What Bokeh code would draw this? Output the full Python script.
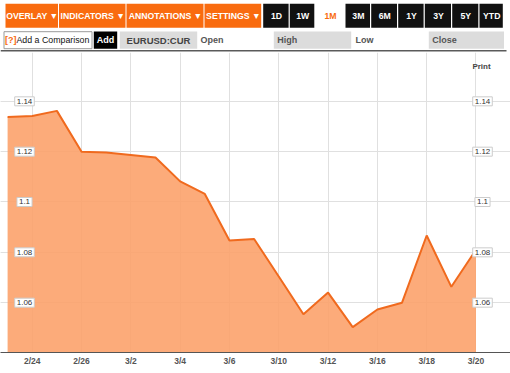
from bokeh.plotting import figure
from bokeh.models import Range1d, FixedTicker, Grid, Label
from bokeh.layouts import column
from bokeh.core.properties import value
from bokeh.embed import file_html
from bokeh.resources import INLINE

# ---------------- data ----------------
dates = ["2/23", "2/24", "2/25", "2/26", "2/27", "3/2", "3/3", "3/4", "3/5", "3/6",
         "3/9", "3/10", "3/11", "3/12", "3/13", "3/16", "3/17", "3/18", "3/19", "3/20"]
close = [1.1338, 1.1342, 1.1362, 1.1200, 1.1197, 1.1187, 1.1177, 1.1082, 1.1032, 1.0847,
         1.0853, 1.0704, 1.0554, 1.0640, 1.0503, 1.0573, 1.0600, 1.0867, 1.0663, 1.0810]
x_tick_labels = ["2/24", "2/26", "3/2", "3/4", "3/6", "3/10", "3/12", "3/16", "3/18", "3/20"]
y_ticks = [1.06, 1.08, 1.10, 1.12, 1.14]
y_tick_labels = ["1.06", "1.08", "1.1", "1.12", "1.14"]
symbol = "EURUSD:CUR"

# header (toolbar) content
menu_labels = ["OVERLAY ▼", "INDICATORS ▼", "ANNOTATIONS ▼", "SETTINGS ▼"]
period_labels = ["1D", "1W", "1M", "3M", "6M", "1Y", "3Y", "5Y", "YTD"]
active_period = "1M"
field_labels = ["Open", "High", "Low", "Close"]

FONT = value("Liberation Sans")
ORANGE = "#F96B0F"
W = 510

# ---------------- header figure ----------------
head = figure(width=W, height=52, x_range=Range1d(0, W), y_range=Range1d(52, 0),
              min_border=0, toolbar_location=None, output_backend="svg",
              x_axis_location=None, y_axis_location=None, outline_line_color=None)
head.xgrid.visible = False
head.ygrid.visible = False

menu_edges = [5, 58.5, 126, 204, 261.7]
period_edges = [262.7, 289.3, 315, 345, 370.7, 397.7, 424.3, 451.7, 479, 503.5]

l, r, c = [], [], []
for i in range(len(menu_labels)):
    l.append(menu_edges[i]); r.append(menu_edges[i + 1] - 1); c.append(ORANGE)
for i, lab in enumerate(period_labels):
    l.append(period_edges[i]); r.append(period_edges[i + 1] - 1.2)
    c.append("white" if lab == active_period else "#111111")
head.quad(left=l, right=r, top=3.3, bottom=27.3, fill_color=c, line_color=None)

tx, tc, tt = [], [], []
for i, lab in enumerate(menu_labels):
    tx.append((menu_edges[i] + menu_edges[i + 1]) / 2); tt.append(lab); tc.append("white")
for i, lab in enumerate(period_labels):
    tx.append((period_edges[i] + period_edges[i + 1]) / 2); tt.append(lab)
    tc.append(ORANGE if lab == active_period else "white")
head.text(x=tx, y=[15.8] * len(tx), text=tt, text_color=tc, text_font=FONT,
          text_font_style="bold", text_font_size="8.7px", text_align="center",
          text_baseline="middle")

# row 2
head.quad(left=[3.5], right=[91.5], top=31.2, bottom=48.2, fill_color="white",
          line_color="#9a9a9a", line_width=1)
head.quad(left=[93.3], right=[116.7], top=31, bottom=48.3, fill_color="black", line_color=None)
head.quad(left=[119.3, 273.3, 428.3], right=[196.7, 350.7, 503.5], top=31, bottom=48.3,
          fill_color="#dcdcdc", line_color=None)
head.text(x=[4.5], y=[39.5], text=["[?]"], text_color=ORANGE, text_font=FONT,
          text_font_size="9px", text_baseline="middle", text_font_style="bold")
head.text(x=[16], y=[39.5], text=["Add a Comparison"], text_color="#111111", text_font=FONT,
          text_font_size="8.8px", text_baseline="middle")
head.text(x=[105], y=[39.5], text=["Add"], text_color="white", text_font=FONT,
          text_font_size="9px", text_font_style="bold", text_baseline="middle",
          text_align="center")
head.text(x=[158], y=[39.5], text=[symbol], text_color="#444444", text_font=FONT,
          text_font_size="9.5px", text_font_style="bold", text_baseline="middle",
          text_align="center")
head.text(x=[200, 276.7, 355, 431.7], y=[39.5] * 4, text=field_labels, text_color="#555555",
          text_font=FONT, text_font_size="9px", text_font_style="bold", text_baseline="middle")
head.segment(x0=[0], x1=[506], y0=[50.3], y1=[50.3], line_color="#5a5a5a", line_width=1.6)

# ---------------- chart figure ----------------
idx = list(range(len(dates)))
tick_idx = [dates.index(d) for d in x_tick_labels]

y0, y1 = 1.0402, 1.1594
p = figure(width=W, height=316, x_range=Range1d(-0.288, 20.40), y_range=Range1d(y0, y1),
           min_border_left=0, min_border_right=0, min_border_top=0, min_border_bottom=15,
           toolbar_location=None, output_backend="svg", y_axis_location=None,
           outline_line_color=None)

p.xgrid.ticker = FixedTicker(ticks=tick_idx)
p.xgrid.grid_line_color = "#e0e0e0"
p.add_layout(Grid(dimension=1, ticker=FixedTicker(ticks=y_ticks), grid_line_color="#e0e0e0"))

p.varea(x=idx, y1=close, y2=y0, fill_color="#FC9F68", fill_alpha=0.88)
p.line(x=idx, y=close, line_color="#F06A1E", line_width=2)

ax = p.xaxis[0]
ax.ticker = FixedTicker(ticks=tick_idx)
ax.major_label_overrides = {i: lab for i, lab in zip(tick_idx, x_tick_labels)}
ax.major_tick_line_color = None
ax.minor_tick_line_color = None
ax.major_tick_out = 0
ax.major_label_standoff = 3
ax.axis_line_color = "#555555"
ax.axis_line_width = 1.2
ax.major_label_text_font = "Liberation Sans"
ax.major_label_text_font_size = "8.5px"
ax.major_label_text_font_style = "bold"
ax.major_label_text_color = "#555555"

for t, lab in zip(y_ticks, y_tick_labels):
    for sx in (24, 482):
        p.add_layout(Label(x=sx, y=t, x_units="screen", text=lab, text_align="center",
                           text_baseline="middle", text_font="Liberation Sans",
                           text_font_size="8px", text_color="#333333",
                           background_fill_color="white", border_line_color="#cccccc",
                           padding=2))

p.add_layout(Label(x=481, y=1.1538, x_units="screen", text="Print", text_align="center",
                   text_baseline="middle", text_font="Liberation Sans",
                   text_font_size="8px", text_font_style="bold", text_color="#444444"))

# ---------------- footer line ----------------
foot = figure(width=W, height=5, x_range=Range1d(0, W), y_range=Range1d(5, 0),
              min_border=0, toolbar_location=None, output_backend="svg",
              x_axis_location=None, y_axis_location=None, outline_line_color=None)
foot.xgrid.visible = False
foot.ygrid.visible = False
foot.segment(x0=[0], x1=[505], y0=[2], y1=[2], line_color="#a8a8a8", line_width=2)

layout = column(head, p, foot, spacing=0)
open("out.html", "w").write(file_html(layout, INLINE))
